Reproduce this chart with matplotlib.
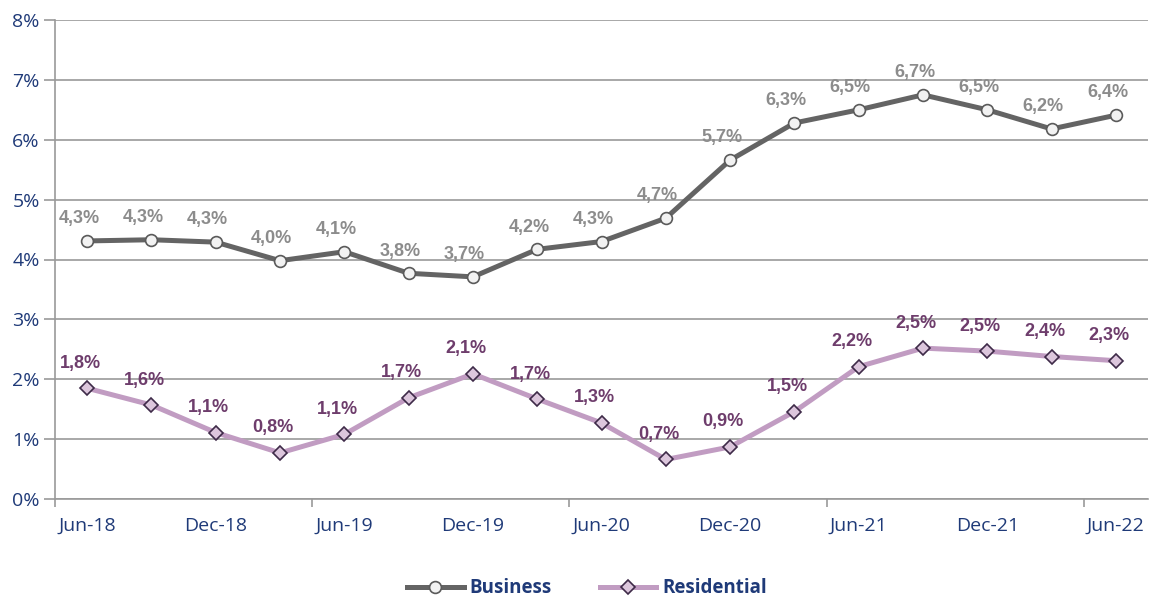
import numpy as np
import matplotlib.pyplot as plt
import matplotlib.ticker as mticker

quarters = ["Jun-18", "Sep-18", "Dec-18", "Mar-19", "Jun-19", "Sep-19", "Dec-19", "Mar-20",
            "Jun-20", "Sep-20", "Dec-20", "Mar-21", "Jun-21", "Sep-21", "Dec-21", "Mar-22", "Jun-22"]
business = [4.31, 4.33, 4.29, 3.98, 4.13, 3.77, 3.71, 4.17, 4.30, 4.69, 5.66, 6.28, 6.50, 6.75, 6.50, 6.18, 6.41]
residential = [1.85, 1.57, 1.11, 0.77, 1.08, 1.69, 2.09, 1.67, 1.27, 0.66, 0.87, 1.46, 2.21, 2.52, 2.47, 2.38, 2.31]
business_labels = ["4,3%", "4,3%", "4,3%", "4,0%", "4,1%", "3,8%", "3,7%", "4,2%", "4,3%",
                   "4,7%", "5,7%", "6,3%", "6,5%", "6,7%", "6,5%", "6,2%", "6,4%"]
residential_labels = ["1,8%", "1,6%", "1,1%", "0,8%", "1,1%", "1,7%", "2,1%", "1,7%", "1,3%",
                      "0,7%", "0,9%", "1,5%", "2,2%", "2,5%", "2,5%", "2,4%", "2,3%"]

NAVY = "#1F3A78"
GRID = "#9A9A9A"
BUS_LINE = "#646464"
BUS_TXT = "#8C8C8C"
RES_LINE = "#C19CC2"
RES_TXT = "#6E3D6C"

fig = plt.figure(figsize=(11.51, 6.0), dpi=100)
ax = fig.add_axes([0.0478, 0.1683, 0.9496, 0.7984])

x = np.arange(len(quarters))
ax.plot(x, business, color=BUS_LINE, lw=3.6, marker='o', ms=8.5,
        mfc="#F2F2F2", mec="#5A5A5A", mew=1.2, label="Business", zorder=3)
ax.plot(x, residential, color=RES_LINE, lw=3.6, marker='D', ms=7,
        mfc="#DCC6DC", mec="#3E2A48", mew=1.2, label="Residential", zorder=3)

for i in x:
    ax.annotate(business_labels[i], (i, business[i]), xytext=(-6, 16), textcoords='offset points',
                ha='center', va='center', fontsize=13, fontweight='bold', color=BUS_TXT,
                family='Liberation Sans')
    ax.annotate(residential_labels[i], (i, residential[i]), xytext=(-5, 18), textcoords='offset points',
                ha='center', va='center', fontsize=13, fontweight='bold', color=RES_TXT,
                family='Liberation Sans')

ax.set_xlim(-0.5, len(quarters) - 0.5)
ax.set_ylim(0, 8)
ax.set_yticks(np.arange(0, 9, 1))
ax.yaxis.set_major_formatter(mticker.FuncFormatter(lambda v, p: f"{v:.0f}%"))
ax.grid(axis='y', color=GRID, lw=1.2)
ax.set_axisbelow(True)

# tick marks between groups of four quarters, labels every other quarter
ax.set_xticks(np.arange(-0.5, len(quarters), 4))
ax.set_xticklabels([])
ax.set_xticks(x[::2], minor=True)
ax.set_xticklabels(quarters[::2], minor=True)
ax.tick_params(axis='x', which='major', length=6, width=1.2, color=GRID)
ax.tick_params(axis='x', which='minor', length=0, pad=13, labelsize=14, labelcolor=NAVY)
ax.tick_params(axis='y', length=8, width=1.2, color=GRID, labelsize=14, labelcolor=NAVY, pad=3)
for lab in ax.get_xticklabels(minor=True) + ax.get_yticklabels():
    lab.set_family('Open Sans')

for s in ['top', 'right']:
    ax.spines[s].set_visible(False)
for s in ['left', 'bottom']:
    ax.spines[s].set_color(GRID)
    ax.spines[s].set_linewidth(1.2)

leg = fig.legend(loc='lower center', bbox_to_anchor=(0.51, -0.025), ncol=2, frameon=False,
                 handlelength=3.0, handletextpad=0.3, columnspacing=2.6,
                 prop={'family': 'Open Sans', 'weight': 'bold', 'size': 13.5})
for t in leg.get_texts():
    t.set_color(NAVY)

fig.savefig("out.png", dpi=100)
